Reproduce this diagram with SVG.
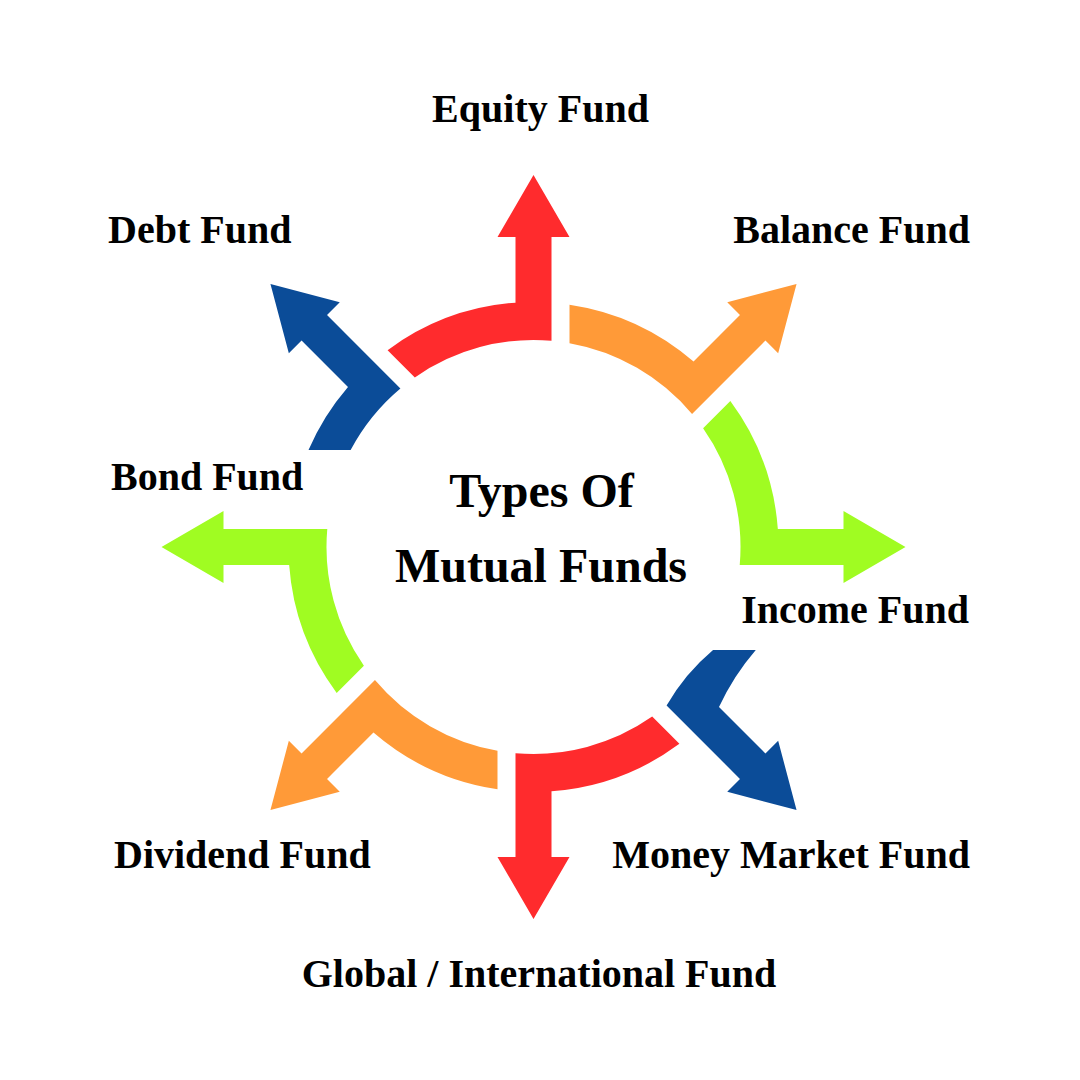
<svg xmlns="http://www.w3.org/2000/svg" width="1080" height="1080" viewBox="0 0 1080 1080">
  <style>
    .lbl { font-family: "Liberation Serif", "Times New Roman", serif; font-weight: bold; font-size: 40px; fill: #000000; }
    .title { font-family: "Liberation Serif", "Times New Roman", serif; font-weight: bold; font-size: 48px; fill: #000000; text-anchor: middle; }
    .red { fill: #FF2B2D; }
    .orange { fill: #FF9A38; }
    .green { fill: #A0FC22; }
    .navy { fill: #0B4C98; }
  </style>
  <defs>
    <path id="seg" d="M -145.90 -196.82 A 245 245 0 0 1 -18 -244.34 L -18 -310 L -36 -310 L 0 -372 L 36 -310 L 18 -310 L 18 -206.22 A 207 207 0 0 0 -118.68 -169.60 Z"/>
  </defs>
  <rect x="0" y="0" width="1080" height="1080" fill="#FFFFFF"/>

  <g id="connectors">
    <use id="arrow-equity" href="#seg" class="red" transform="translate(533.5,547) rotate(0)"/>
    <use id="arrow-balance" href="#seg" class="orange" transform="translate(533.5,547) rotate(45)"/>
    <use id="arrow-income" href="#seg" class="green" transform="translate(533.5,547) rotate(90)"/>
    <path id="arrow-money" class="navy" d="M 755.80 650 A 245 245 0 0 0 719.00 707.04 L 765.43 753.47 L 778.16 740.74 L 796.54 810.04 L 727.24 791.66 L 739.97 778.93 L 666.59 705.55 A 207 207 0 0 1 713.06 650 Z"/>
    <use id="arrow-global" href="#seg" class="red" transform="translate(533.5,547) rotate(180)"/>
    <use id="arrow-dividend" href="#seg" class="orange" transform="translate(533.5,547) rotate(225)"/>
    <use id="arrow-bond" href="#seg" class="green" transform="translate(533.5,547) rotate(270)"/>
    <path id="arrow-debt" class="navy" d="M 308.52 450 A 245 245 0 0 1 348.00 387.00 L 301.57 340.53 L 288.84 353.26 L 270.46 283.96 L 339.76 302.34 L 327.03 315.07 L 400.41 388.45 A 207 207 0 0 0 350.63 450 Z"/>
  </g>

  <g id="node-center">
    <text class="title" x="541.5" y="507">Types Of</text>
    <text class="title" x="541" y="582">Mutual Funds</text>
  </g>
  <g id="node-equity">
    <text class="lbl" x="540.5" y="121.5" text-anchor="middle">Equity Fund</text>
  </g>
  <g id="node-balance">
    <text class="lbl" x="970" y="243" text-anchor="end">Balance Fund</text>
  </g>
  <g id="node-income">
    <text class="lbl" x="969" y="623" text-anchor="end">Income Fund</text>
  </g>
  <g id="node-money">
    <text class="lbl" x="970" y="868" text-anchor="end">Money Market Fund</text>
  </g>
  <g id="node-global">
    <text class="lbl" x="539" y="987" text-anchor="middle">Global / International Fund</text>
  </g>
  <g id="node-dividend">
    <text class="lbl" x="114" y="868">Dividend Fund</text>
  </g>
  <g id="node-bond">
    <text class="lbl" x="111" y="490">Bond Fund</text>
  </g>
  <g id="node-debt">
    <text class="lbl" x="108" y="243">Debt Fund</text>
  </g>
</svg>
